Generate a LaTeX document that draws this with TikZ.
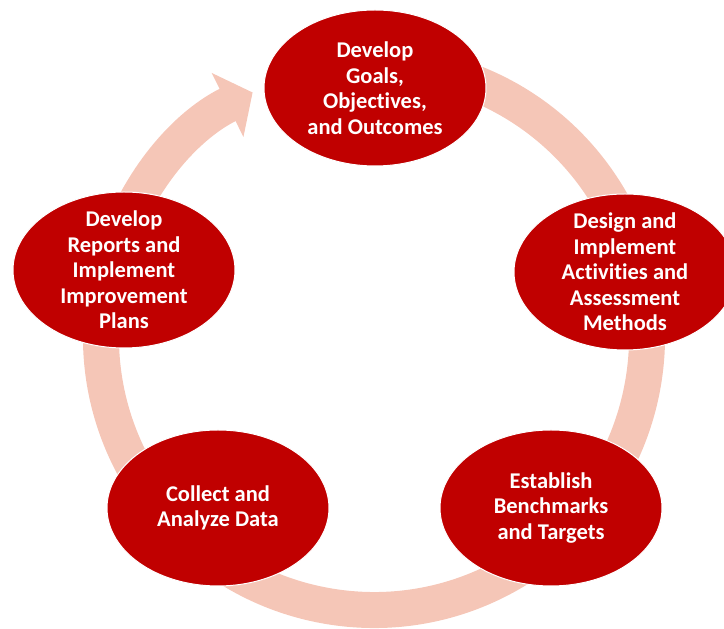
\documentclass[tikz,border=0pt]{standalone}
\usepackage{fontspec}
\setmainfont{Carlito}[Ligatures=NoCommon]
\usetikzlibrary{shapes.geometric, arrows.meta}

\definecolor{stagered}{RGB}{192,0,0}
\definecolor{ringpink}{RGB}{245,198,183}

\begin{document}
\begin{tikzpicture}[
            x = 1pt, y = 1pt, % one unit per pixel
            stage/.style = {
                ellipse,
                fill = stagered,
                draw = white, % thin white rim over the ring
                line width = 1pt,
                minimum width = 222pt,
                minimum height = 156pt,
                inner sep = 0pt
            },
            stagetext/.style = {
                text = white,
                align = center,
                font = \bfseries\fontsize{22.5}{25.5}\selectfont
            },
            cycle/.style = {
                draw = ringpink,
                line width = 36pt,
                -{Triangle[width = 70pt, length = 28pt]}
            }
        ]

        \useasboundingbox (0,0) rectangle (724,629);

        % big ring behind the stages, ends in the arrow at top left
        \coordinate (hub) at (374,292);
        \draw[cycle] ([shift={(80:273)}]hub) arc[start angle = 80, end angle = -243.6, radius = 273];

        \node[stage, label={[stagetext]center:{Develop\\Goals,\\Objectives,\\and Outcomes}}] (goals) at (375,541) {};
        \node[stage, label={[stagetext]center:{Design and\\Implement\\Activities and\\Assessment\\Methods}}] (design) at (625,357) {};
        \node[stage, label={[stagetext]center:{Establish\\Benchmarks\\and Targets}}] (targets) at (551,121) {};
        \node[stage, label={[stagetext]center:{Collect and\\Analyze Data}}] (data) at (218,121) {};
        \node[stage, label={[stagetext]center:{Develop\\Reports and\\Implement\\Improvement\\Plans}}] (reports) at (124,359) {};

    \end{tikzpicture}
\end{document}
